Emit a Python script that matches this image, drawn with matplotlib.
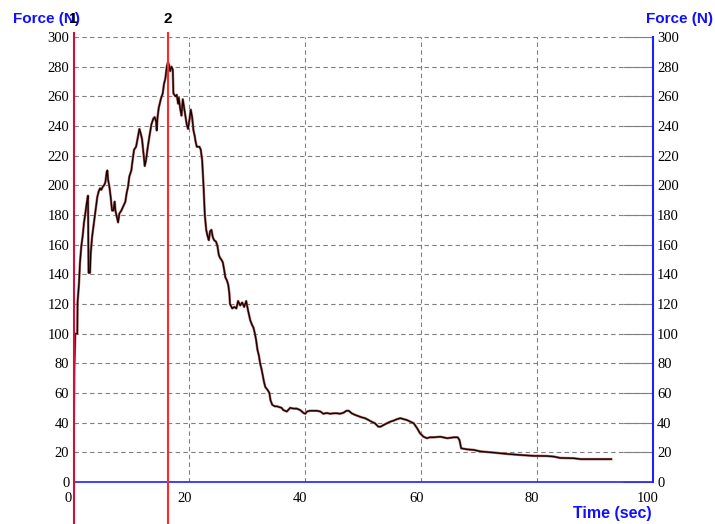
import matplotlib
matplotlib.use('Agg')
import matplotlib.pyplot as plt
from matplotlib.transforms import ScaledTranslation, blended_transform_factory

# force trace: time (sec) / force (N)
time_s = [0.0, 0.15, 0.3, 0.66, 0.7, 0.95, 1.12, 1.35, 1.59, 1.81,
          2.04, 2.28, 2.5, 2.6, 2.85, 2.97, 3.2, 3.43, 3.66, 3.89,
          4.1, 4.35, 4.58, 4.81, 5.04, 5.27, 5.5, 5.73, 5.84, 5.96,
          6.19, 6.42, 6.65, 6.88, 7.11, 7.23, 7.46, 7.69, 7.92, 8.26,
          8.6, 8.95, 9.18, 9.41, 9.64, 9.98, 10.1, 10.45, 10.8, 11.14,
          11.37, 11.6, 11.83, 12.06, 12.3, 12.52, 12.75, 13.1, 13.44, 13.78,
          14.0, 14.25, 14.37, 14.48, 14.7, 15.06, 15.4, 15.6, 15.85, 16.1,
          16.3, 16.5, 16.67, 16.9, 17.13, 17.24, 17.58, 17.82, 18.05, 18.17,
          18.4, 18.63, 18.86, 19.09, 19.3, 19.54, 19.77, 20.0, 20.24, 20.47,
          20.7, 20.93, 21.04, 21.28, 21.73, 21.96, 22.2, 22.42, 22.66, 22.9,
          23.12, 23.35, 23.57, 23.8, 24.04, 24.27, 24.6, 24.84, 25.08, 25.3,
          25.5, 25.77, 26.0, 26.2, 26.46, 26.7, 26.9, 27.0, 27.4, 27.75,
          28.1, 28.4, 28.76, 29.1, 29.45, 29.8, 30.1, 30.5, 30.8, 31.06,
          31.3, 31.5, 31.75, 32.0, 32.2, 32.45, 32.7, 32.9, 33.1, 33.5,
          33.8, 34.0, 34.3, 34.75, 35.1, 35.9, 36.2, 36.8, 37.4, 37.9,
          38.5, 39.1, 39.7, 40.0, 40.3, 40.8, 41.4, 42.0, 42.6, 43.1,
          43.7, 44.3, 44.9, 45.5, 46.0, 46.6, 47.1, 47.5, 48.0, 48.6,
          49.1, 49.7, 50.3, 50.9, 51.4, 52.0, 52.6, 53.0, 53.5, 54.1,
          54.7, 55.2, 55.8, 56.4, 57.0, 57.5, 58.1, 58.7, 59.3, 59.8,
          60.4, 61.0, 61.5, 62.1, 63.3, 64.5, 65.6, 66.3, 66.6, 66.9,
          67.9, 69.1, 70.2, 72.5, 74.8, 77.1, 79.4, 81.7, 82.9, 84.0,
          86.3, 87.5, 89.8, 92.8]
force_n = [30, 78, 100, 100, 121, 134, 148, 159, 166, 175,
           181, 188, 193, 141, 141, 154, 165, 172, 179, 186,
           192, 196, 198, 197, 199, 200, 202, 209, 210, 204,
           199, 192, 183, 183, 189, 183, 179, 175, 181, 183,
           186, 189, 195, 199, 206, 210, 214, 224, 226, 233,
           238, 235, 231, 222, 213, 217, 224, 233, 241, 245,
           246, 243, 237, 245, 252, 258, 262, 268, 272, 280,
           283, 281, 277, 280, 278, 262, 260, 261, 255, 259,
           252, 247, 258, 252, 247, 241, 238, 244, 251, 246,
           237, 233, 230, 226, 226, 224, 217, 201, 180, 170,
           166, 163, 169, 170, 165, 163, 162, 159, 153, 151,
           150, 148, 143, 138, 136, 133, 127, 120, 117, 118,
           117, 122, 119, 121, 118, 122, 116, 109, 106, 104,
           100, 96, 89, 85, 80, 76, 71, 67, 64, 62,
           60, 55, 52, 51, 51, 50, 48.5, 47.5, 50, 49.5,
           49.5, 48.5, 46.5, 46, 47.5, 48, 48, 48, 47.5, 46,
           46.5, 46, 46.3, 46.3, 46, 46.7, 48, 48, 46.3, 45.2,
           44.5, 43.6, 43, 41.8, 40.7, 39.6, 37.3, 37.3, 38.4, 39.6,
           40.7, 41.3, 42.3, 43, 42.3, 41.8, 40.7, 39.6, 36.2, 32.8,
           30.5, 29.5, 30.1, 30.1, 30.5, 29.5, 30.1, 30.1, 28.3, 22.7,
           22, 21.6, 20.6, 19.8, 18.9, 18.2, 17.6, 17.5, 17.1, 16.2,
           16, 15.4, 15.4, 15.4]

cursor_times = [0.0, 16.3]
cursor_labels = ['1', '2']
cursor_colors = ['#d0103a', '#ff2a2a']
x_ticks = [0, 20, 40, 60, 80, 100]
y_ticks = list(range(0, 301, 20))

fig = plt.figure(figsize=(7.15, 5.24), dpi=100)
ax = fig.add_axes([0.1028, 0.0802, 0.8105, 0.8492])
ax.set_xlim(0, 100)
ax.set_ylim(0, 300)

# grid: dashed grey, vertical lines only inside the frame
for y in y_ticks:
  ax.axhline(y, color='#808080', lw=0.8, ls=(0, (4, 3)), zorder=1)
for x in x_ticks[1:-1]:
  ax.axvline(x, color='#808080', lw=0.8, ls=(0, (4, 3)), zorder=1)

# the trace (reddish halo under a dark line)
ax.plot(time_s, force_n, color='#b07070', lw=1.8, zorder=3)
ax.plot(time_s, force_n, color='#1a0000', lw=1.0, zorder=4)

# cursors run below the frame down to the edge of the picture
tr = blended_transform_factory(ax.transData, fig.transFigure)
for t, lab, c in zip(cursor_times, cursor_labels, cursor_colors):
  ax.axvline(t, ymin=-0.1, ymax=1.01, color=c, lw=1.5, clip_on=False, zorder=5)
  fig.text(t, 0.9637, lab, transform=tr, ha='center', va='center',
           fontsize=11, fontweight='bold', family='Liberation Sans', zorder=6)

for s in ['top', 'left']:
  ax.spines[s].set_visible(False)
ax.spines['right'].set_color('#2020ff')
ax.spines['right'].set_linewidth(1.5)
ax.spines['bottom'].set_color('#2020ff')
ax.spines['bottom'].set_linewidth(1.2)
ax.spines['bottom'].set_linestyle((0, (1, 1)))

ax.set_xticks(x_ticks)
ax.set_yticks(y_ticks)
ax.tick_params(axis='x', length=0, pad=7, labelsize=10.5)
ax.tick_params(axis='y', left=False, right=True, labelleft=True, labelright=True,
               direction='in', length=21.6, color='#808080', pad=3, labelsize=10.5)
for lab in ax.get_xticklabels() + ax.get_yticklabels():
  lab.set_family('Liberation Serif')
shift = ScaledTranslation(-5 / 100, 0, fig.dpi_scale_trans)
for lab in ax.get_xticklabels():
  lab.set_transform(lab.get_transform() + shift)

blue = '#1010ff'
fig.text(0.0178, 0.9637, 'Force (N)', ha='left', va='center', color=blue,
         fontsize=11, fontweight='bold', family='Liberation Sans')
fig.text(0.9968, 0.9637, 'Force (N)', ha='right', va='center', color=blue,
         fontsize=11, fontweight='bold', family='Liberation Sans')
fig.text(0.9115, 0.0191, 'Time (sec)', ha='right', va='center', color=blue,
         fontsize=11.5, fontweight='bold', family='Liberation Sans')

fig.savefig('out.png', dpi=100)
plt.close(fig)
